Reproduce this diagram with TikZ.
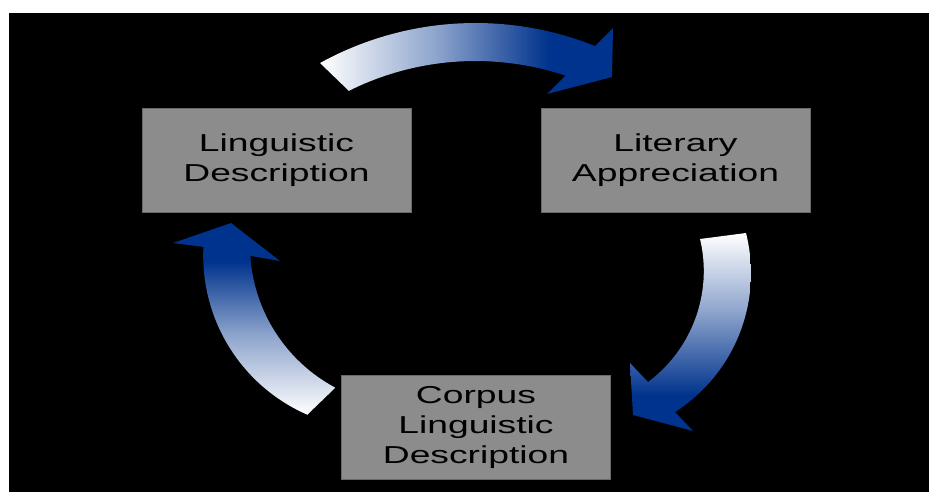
\documentclass[tikz,border=0pt]{standalone}
\usepackage{fontspec}
\usepackage{graphicx}
\setmainfont{Liberation Sans}
\definecolor{arrowblue}{RGB}{0,51,141}
\definecolor{boxgray}{RGB}{140,140,140}
\definecolor{boxedge}{RGB}{105,105,105}

% gradients for the three curved arrows (light tail, dark head)
\pgfdeclarehorizontalshading{topshade}{100bp}{color(0bp)=(white); color(25bp)=(white); color(45bp)=(arrowblue!45!white); color(64bp)=(arrowblue); color(100bp)=(arrowblue)}
\pgfdeclareverticalshading{leftshade}{100bp}{color(0bp)=(white); color(25bp)=(white); color(46bp)=(arrowblue!45!white); color(65bp)=(arrowblue); color(100bp)=(arrowblue)}
\pgfdeclareverticalshading{rightshade}{100bp}{color(0bp)=(arrowblue); color(34bp)=(arrowblue); color(55bp)=(arrowblue!45!white); color(75bp)=(white); color(100bp)=(white)}

\newcommand{\boxtxt}[1]{\scalebox{1.52}[1]{\begin{tabular}{@{}c@{}}#1\end{tabular}}}

\tikzset{
  boxnode/.style={rectangle, fill=boxgray, draw=boxedge, line width=0.8pt,
    minimum width=269pt, minimum height=104pt, inner sep=0pt,
    font=\fontsize{24.5}{30}\selectfont, text=black},
}

\begin{document}
\begin{tikzpicture}[x=1pt, y=-1pt]
  \useasboundingbox (0,0) rectangle (929,492);
  \fill[white] (0,0) rectangle (929,492);
  \fill[black] (9,13) rectangle (929,492);

  % boxes
  \node[boxnode] (ling) at (276.5,160) {\boxtxt{Linguistic\\Description}};
  \node[boxnode] (lit)  at (675.5,160) {\boxtxt{Literary\\Appreciation}};
  \node[boxnode] (corp) at (476,427)   {\boxtxt{Corpus\\Linguistic\\Description}};

  % top arrow: Linguistic Description -> Literary Appreciation
  \shade[shading=topshade]
    (320,63)
    -- plot[domain=-118.9:-68.2, samples=40, variable=\t] ({475.5+322*cos(\t)},{345+322*sin(\t)})
    -- (595,46) -- (613,28) -- (612,77) -- (547,94) -- (565,76)
    -- plot[domain=-71.6:-116.5, samples=40, variable=\t] ({475.5+284*cos(\t)},{345+284*sin(\t)})
    -- (349,91) -- cycle;

  % right arrow: Literary Appreciation -> Corpus Linguistic Description
  \shade[shading=rightshade]
    (746,233)
    -- plot[domain=-14.2:57.4, samples=40, variable=\t] ({586.4+164.6*cos(\t)},{273.3+164.6*sin(\t)})
    -- (675,412) -- (693,431) -- (633,415) -- (630,363) -- (648,382)
    -- plot[domain=53.3:-13.4, samples=40, variable=\t] ({565.4+138.4*cos(\t)},{271+138.4*sin(\t)})
    -- (700,239) -- cycle;

  % left arrow: Corpus Linguistic Description -> Linguistic Description
  \shade[shading=leftshade]
    (307,415)
    -- plot[domain=113.6:182.9, samples=40, variable=\t] ({376.7+173.5*cos(\t)},{255.7+173.5*sin(\t)})
    -- (204,247) -- (173,243) -- (231,223) -- (280,261) -- (251,256)
    -- plot[domain=176.3:118.1, samples=40, variable=\t] ({411+161*cos(\t)},{245.6+161*sin(\t)})
    -- (335,388) -- cycle;
\end{tikzpicture}
\end{document}
